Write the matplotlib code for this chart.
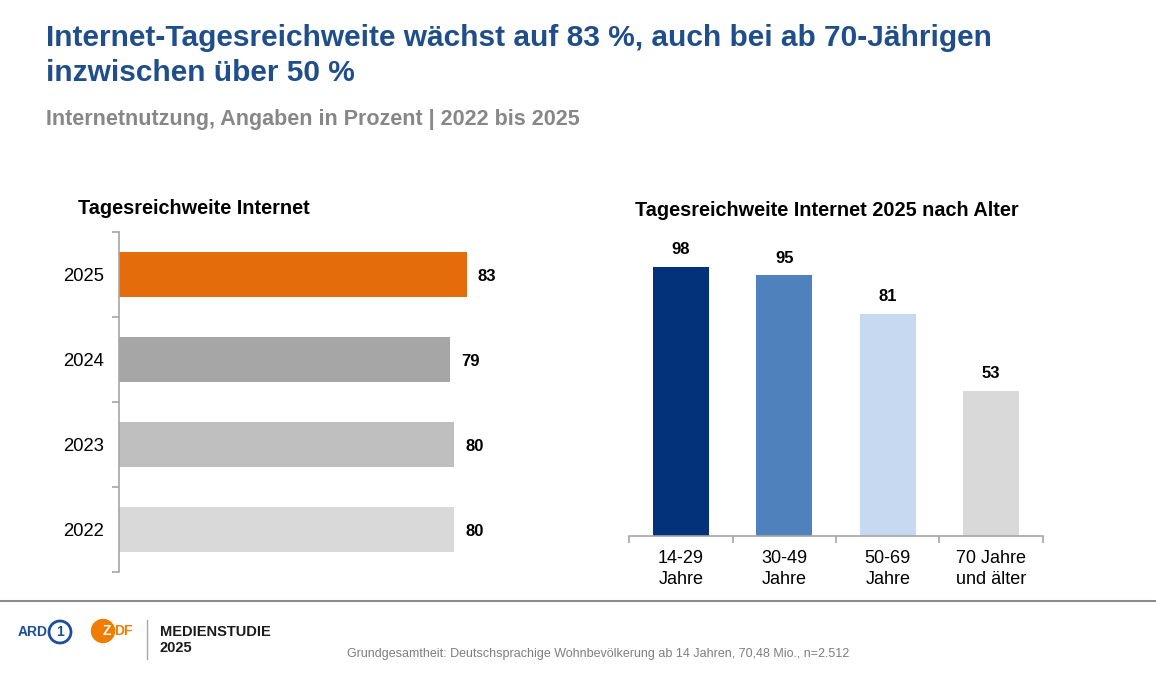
import matplotlib
matplotlib.use("Agg")
from matplotlib import pyplot as plt
from matplotlib.patches import Circle
from matplotlib.lines import Line2D

# data
years = ["2025", "2024", "2023", "2022"]
year_values = [83, 79, 80, 80]
year_colors = ["#E46C0A", "#A6A6A6", "#BFBFBF", "#D9D9D9"]

age_groups = ["14-29\nJahre", "30-49\nJahre", "50-69\nJahre", "70 Jahre\nund älter"]
age_values = [98, 95, 81, 53]
age_colors = ["#03327A", "#4F81BD", "#C6D9F1", "#D9D9D9"]

TITLE = "Internet-Tagesreichweite wächst auf 83 %, auch bei ab 70-Jährigen\ninzwischen über 50 %"
SUBTITLE = "Internetnutzung, Angaben in Prozent | 2022 bis 2025"
FOOTNOTE = "Grundgesamtheit: Deutschsprachige Wohnbevölkerung ab 14 Jahren, 70,48 Mio., n=2.512"

plt.rcParams["font.family"] = ["Liberation Sans", "DejaVu Sans"]

W, H = 1156, 675
fig = plt.figure(figsize=(W / 100, H / 100), dpi=100)


def box(x0, y0, x1, y1):
    # pixel box (top-left origin) -> figure fraction rect
    return [x0 / W, 1 - y1 / H, (x1 - x0) / W, (y1 - y0) / H]


fig.text(46 / W, 1 - 38 / H, TITLE.split("\n")[0], fontsize=21.5,
         fontweight="bold", color="#1F4E8A", va="center", ha="left")
fig.text(46 / W, 1 - 73 / H, TITLE.split("\n")[1], fontsize=21.5,
         fontweight="bold", color="#1F4E8A", va="center", ha="left")
fig.text(46 / W, 1 - 119 / H, SUBTITLE, fontsize=15.5, fontweight="bold",
         color="#878787", va="center", ha="left")

# left: yearly reach
ax1 = fig.add_axes(box(119, 232, 538, 572))
ypos = list(range(len(years)))
ax1.barh(ypos, year_values, height=0.54, color=year_colors)
ax1.set_xlim(0, 100)
ax1.set_ylim(len(years) - 0.5, -0.5)
for y, v in zip(ypos, year_values):
    ax1.text(v + 2.6, y + 0.02, str(v), va="center", ha="left", fontsize=12,
             fontweight="bold", color="black")
ax1.set_yticks(ypos)
ax1.set_yticklabels(years, fontsize=13.3)
ax1.set_yticks([i - 0.5 for i in range(len(years) + 1)], minor=True)
ax1.tick_params(axis="y", which="major", length=0, pad=11)
ax1.tick_params(axis="y", which="minor", length=5, color="#A6A6A6", width=1.2)
ax1.set_xticks([])
for s in ["top", "right", "bottom"]:
    ax1.spines[s].set_visible(False)
ax1.spines["left"].set_color("#A6A6A6")
ax1.spines["left"].set_linewidth(1.2)
fig.text(78 / W, 1 - 208 / H, "Tagesreichweite Internet", fontsize=14.3,
         fontweight="bold", va="center", ha="left")

# right: reach by age
ax2 = fig.add_axes(box(629, 261.5, 1043, 536))
xpos = list(range(len(age_groups)))
ax2.bar(xpos, age_values, width=0.54, color=age_colors)
ax2.set_ylim(0, 100)
ax2.set_xlim(-0.5, len(age_groups) - 0.5)
for x, v in zip(xpos, age_values):
    ax2.text(x, v + 3.5, str(v), va="bottom", ha="center", fontsize=12,
             fontweight="bold", color="black", clip_on=False)
ax2.set_xticks(xpos)
ax2.set_xticklabels(age_groups, fontsize=13, linespacing=1.35)
ax2.set_xticks([i - 0.5 for i in range(len(age_groups) + 1)], minor=True)
ax2.tick_params(axis="x", which="major", length=0, pad=10)
ax2.tick_params(axis="x", which="minor", length=5, color="#A6A6A6", width=1.2)
ax2.set_yticks([])
for s in ["top", "right", "left"]:
    ax2.spines[s].set_visible(False)
ax2.spines["bottom"].set_color("#A6A6A6")
ax2.spines["bottom"].set_linewidth(1.2)
fig.text(827 / W, 1 - 211 / H, "Tagesreichweite Internet 2025 nach Alter",
         fontsize=14.3, fontweight="bold", va="center", ha="center")

# footer
fig.add_artist(Line2D([0, 1], [1 - 601 / H] * 2, transform=fig.transFigure,
                      color="#8C8C8C", lw=1.5))
fig.text(18 / W, 1 - 632 / H, "ARD", fontsize=10, fontweight="bold",
         color="#1C4E9C", va="center", ha="left")
fig.add_artist(Circle((60, H - 632), 11, transform=None, fill=False,
                      ec="#1C4E9C", lw=2))
fig.text(60 / W, 1 - 632 / H, "1", fontsize=10, fontweight="bold",
         color="#1C4E9C", va="center", ha="center")
fig.add_artist(Circle((103, H - 631), 11.5, transform=None, color="#F07D00"))
fig.text(107 / W, 1 - 631 / H, "Z", fontsize=10, fontweight="bold",
         color="white", va="center", ha="center")
fig.text(114 / W, 1 - 631 / H, "DF", fontsize=10, fontweight="bold",
         color="#F07D00", va="center", ha="left")
fig.add_artist(Line2D([147 / W] * 2, [1 - 620 / H, 1 - 659 / H],
                      transform=fig.transFigure, color="#A6A6A6", lw=1))
fig.text(160 / W, 1 - 632 / H, "MEDIENSTUDIE", fontsize=10.5, fontweight="bold",
         color="#1A1A1A", va="center", ha="left")
fig.text(160 / W, 1 - 648 / H, "2025", fontsize=10.5, fontweight="bold",
         color="#1A1A1A", va="center", ha="left")
fig.text(598 / W, 1 - 654 / H, FOOTNOTE, fontsize=9, color="#7F7F7F",
         va="center", ha="center")

fig.savefig("out.png", dpi=100)
